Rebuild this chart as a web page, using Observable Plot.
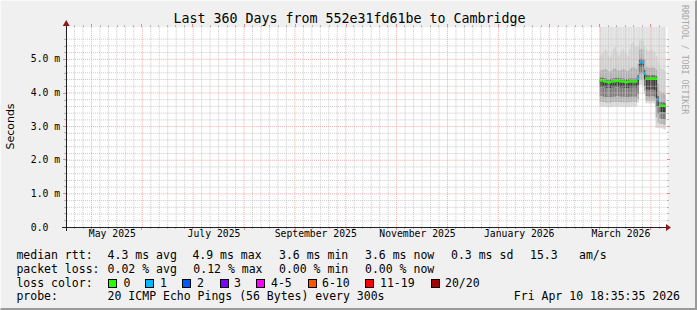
<!DOCTYPE html>
<html><head><meta charset="utf-8">
<script src="https://cdn.jsdelivr.net/npm/d3@7"></script>
<script src="https://cdn.jsdelivr.net/npm/@observablehq/plot@0.6"></script>
<style>
html,body{margin:0;padding:0;background:#f0f0f0;}
#wrap{position:relative;width:697px;height:310px;background:#f0f0f0;overflow:hidden;font-family:"DejaVu Sans Mono",monospace;color:#000;box-sizing:border-box;border-right:2px solid #9a9a9a;border-bottom:2px solid #9a9a9a;border-top:1px solid #fafafa;border-left:1px solid #fafafa;}
#wrap svg{position:absolute;left:-1px;top:-1px;overflow:visible;}
.t{position:absolute;white-space:pre;font-size:11.5px;line-height:1;}
.sw{position:absolute;width:7px;height:7px;border:1px solid #000;}
</style></head><body><div id="wrap"></div>
<script>
// ---------- data ----------
const title = "Last 360 Days from 552e31fd61be to Cambridge";
const yAxisLabel = "Seconds";
const watermark = "RRDTOOL / TOBI OETIKER";
const rangeStart = "2025-04-15T18:35:35";
const rangeEnd = "2026-04-10T18:35:35";
const firstSample = "2026-03-01T00:00:00"; // one sample per day from here

const medianMs = [4.37,4.37,4.35,4.34,4.33,4.32,4.32,4.34,4.34,4.35,4.36,4.36,4.34,4.34,4.34,4.33,4.32,4.33,4.34,4.34,4.34,4.34,4.34,
  4.42,4.90,4.91,4.90,4.57,4.43,4.43,4.42,4.43,4.43,4.42,4.42,3.78,3.63,3.62,3.62,3.61];
const lossPings = [0,0,0,0,0,0,0,0,0,0,0,0,0,0,0,0,0,0,0,0,0,0,0,
  1,1,1,1,1,0,0,0,0,0,0,0,1,0,0,0,0];
const smokeMax = [6.3,6.3,6.3,6.3,6.3,6.3,6.3,6.3,6.3,6.3,6.3,6.3,6.3,6.3,6.3,6.3,6.3,6.3,6.3,6.3,6.3,6.3,6.3,
  6.3,6.3,6.3,6.3,6.3,6.3,6.3,6.3,6.3,6.3,6.3,6.3,6.3,6.3,6.3,6.3,6.3];
const smokeP90 = [5.10,5.15,5.20,5.30,5.25,5.10,5.05,5.15,5.30,5.35,5.20,5.10,5.15,5.25,5.30,5.20,5.15,5.10,5.30,5.45,5.50,5.40,5.35,
  5.40,5.55,5.60,5.55,5.40,5.30,5.25,5.25,5.30,5.25,5.20,5.10,4.90,4.75,4.70,4.70,4.65];
const smokeP75 = [4.66,4.68,4.68,4.70,4.68,4.64,4.63,4.66,4.70,4.72,4.68,4.66,4.66,4.68,4.70,4.68,4.66,4.64,4.70,4.74,4.76,4.73,4.70,
  4.85,5.28,5.30,5.28,5.00,4.76,4.75,4.74,4.75,4.75,4.73,4.68,4.25,4.05,4.00,4.00,3.95];
const smokeP60 = [4.45,4.45,4.43,4.42,4.41,4.40,4.40,4.42,4.42,4.43,4.44,4.44,4.42,4.42,4.42,4.41,4.40,4.41,4.42,4.42,4.42,4.42,4.42,
  4.52,5.00,5.01,5.00,4.68,4.52,4.52,4.51,4.52,4.52,4.51,4.50,3.90,3.72,3.71,3.71,3.70];
const smokeP40 = [4.16,4.16,4.15,4.14,4.13,4.12,4.12,4.14,4.14,4.15,4.16,4.16,4.14,4.14,4.14,4.13,4.12,4.13,4.14,4.14,4.14,4.14,4.14,
  4.20,4.75,4.76,4.75,4.36,4.08,4.08,4.07,4.08,4.08,4.07,3.82,3.58,3.42,3.41,3.41,3.40];
const smokeP25 = [3.88,3.88,3.87,3.86,3.86,3.85,3.85,3.86,3.87,3.87,3.88,3.88,3.87,3.87,3.87,3.86,3.85,3.86,3.87,3.87,3.87,3.87,3.87,
  3.95,4.55,4.56,4.55,4.18,3.88,3.88,3.87,3.88,3.88,3.87,3.55,3.35,3.22,3.21,3.21,3.19];
const smokeP10 = [3.71,3.71,3.70,3.70,3.69,3.69,3.69,3.70,3.71,3.71,3.71,3.71,3.70,3.70,3.70,3.70,3.69,3.70,3.70,3.71,3.71,3.71,3.71,
  3.80,4.35,4.36,4.35,4.04,3.75,3.75,3.74,3.75,3.75,3.74,3.25,3.10,3.06,3.05,3.04,3.02];
const smokeMin = [3.58,3.58,3.57,3.57,3.56,3.56,3.56,3.57,3.58,3.58,3.58,3.58,3.57,3.57,3.57,3.57,3.56,3.57,3.57,3.58,3.58,3.58,3.58,
  3.70,4.22,4.23,4.22,3.95,3.68,3.68,3.67,3.68,3.68,3.67,2.95,2.95,2.95,2.94,2.92,2.90];

const yMax = 5.95;
const yTickValues = [0,1,2,3,4,5];
const yTickLabels = ["0.0","1.0 m","2.0 m","3.0 m","4.0 m","5.0 m"];
const monthLabels = ["May 2025","July 2025","September 2025","November 2025","January 2026","March 2026"];
const monthLabelStarts = ["2025-05-01","2025-07-01","2025-09-01","2025-11-01","2026-01-01","2026-03-01"];

const legendRows = [
  ["median rtt:","4.3 ms avg","4.9 ms max","3.6 ms min","3.6 ms now","0.3 ms sd","15.3","am/s"],
  ["packet loss:","0.02 % avg","0.12 % max","0.00 % min","0.00 % now"],
  ["probe:","20 ICMP Echo Pings (56 Bytes) every 300s"]
];
const lossLabels = ["0","1","2","3","4-5","6-10","11-19","20/20"];
const lossColors = ["#26ff00","#00b8ff","#0059ff","#7e00ff","#ff00ff","#ff5500","#ff0000","#a10000"];
const lossColorTitle = "loss color:";
const timestamp = "Fri Apr 10 18:35:35 2026";

// ---------- layout ----------
const W = 697, H = 310;
const M = {top: 27, right: 27.1, bottom: 82, left: 65.4};
const legendX = [[16.4,107.6,192.4,279,365,451,530,579],[16.4,107.6,193.3,279,365],[16.4,107.6]];
const legendTop = [248.5, 262.5, 290];
const swatchX = [108,145.3,182,219.6,256.4,307.6,365.3,431];
const swatchLabelX = [123.6,160,197,234,271,322,380,445];
const labelShift = 0.41;   // month labels sit this far (in months) after the grid line

// calendar axis: every month gets the same width (as in the rrd graph)
function monthIndex(d) {
  d = new Date(d);
  const m0 = d3.timeMonth.floor(d), m1 = d3.timeMonth.offset(m0, 1);
  return (m0.getFullYear() - 2025) * 12 + m0.getMonth() + (d - m0) / (m1 - m0);
}
const t0 = new Date(rangeStart), t1 = new Date(rangeEnd), tFirst = new Date(firstSample);
const rows = medianMs.map((m, i) => ({
  a: d3.timeDay.offset(tFirst, i), b: d3.timeDay.offset(tFirst, i + 1),
  median: m, loss: lossPings[i],
  mn: smokeMin[i], p10: smokeP10[i], p25: smokeP25[i], p40: smokeP40[i],
  p60: smokeP60[i], p75: smokeP75[i], p90: smokeP90[i], mx: smokeMax[i]
}));
const bands = [
  ["p90","mx","#e0e0e0"],["p75","p90","#d0d0d0"],["p60","p75","#b0b0b0"],["median","p60","#686868"],
  ["p40","median","#3c3c3c"],["p25","p40","#7c7c7c"],["p10","p25","#b2b2b2"],["mn","p10","#d8d8d8"]
];
const majorX = d3.timeMonth.range(d3.timeMonth.ceil(t0), t1);
const minorX = d3.timeMonth.range(d3.timeMonth.floor(t0), t1)
  .flatMap(m => d3.range(1, 6).map(k => monthIndex(m) + k / 6))
  .filter(v => v > monthIndex(t0) && v < monthIndex(t1));
const majorY = d3.range(0, yMax, 1);
const minorY = d3.range(0, 29).map(i => i * 0.2).filter(v => v < yMax && Math.abs(v - Math.round(v)) > 1e-6);
const labelPos = monthLabelStarts.map(s => monthIndex(s + "T00:00:00") + labelShift);

const gridMinor = {stroke: "#c9c9c9", strokeDasharray: "1,1", strokeWidth: 1};
const gridMajor = {stroke: "#f0a8a8", strokeDasharray: "1,1", strokeWidth: 1};

const chart = Plot.plot({
  width: W, height: H,
  marginTop: M.top, marginRight: M.right, marginBottom: M.bottom, marginLeft: M.left,
  style: {background: "transparent", fontFamily: "'DejaVu Sans Mono', monospace", fontSize: "9.8px", color: "#000"},
  x: {type: "linear", domain: [monthIndex(t0), monthIndex(t1)], axis: null},
  y: {domain: [0, yMax], axis: null},
  marks: [
    Plot.frame({fill: "#ffffff", stroke: null}),
    ...bands.map(([lo, hi, f]) => Plot.rect(rows, {x1: d => monthIndex(d.a), x2: d => monthIndex(d.b), y1: lo, y2: hi, fill: f, inset: 0, clip: true})),
    Plot.ruleX(minorX, {...gridMinor}),
    Plot.ruleY(minorY, {...gridMinor}),
    Plot.ruleX(majorX, {x: d => monthIndex(d), ...gridMajor}),
    Plot.ruleY(majorY.filter(v => v > 0), {...gridMajor}),
    Plot.ruleY(rows, {x1: d => monthIndex(d.a), x2: d => monthIndex(d.b), y: "median", stroke: d => lossColors[d.loss], strokeWidth: 2.5, clip: true}),
    Plot.text(yTickValues, {y: d => d, text: (d, i) => yTickLabels[i], frameAnchor: "left", dx: -35, textAnchor: "start", fill: "#000"}),
    Plot.text(labelPos, {x: d => d, text: (d, i) => monthLabels[i], frameAnchor: "bottom", dy: 10, fill: "#000"})
  ]
});
const wrap = document.getElementById("wrap");
wrap.appendChild(chart);

// axis lines, ticks, arrows (positions from Plot's scales)
const sx = chart.scale("x"), sy = chart.scale("y");
const svg = d3.select(chart);
const x0 = Math.round(sx.apply(monthIndex(t0))) + 1, x1 = W - M.right, yb = sy.apply(0), yt = M.top;
const g = svg.append("g").attr("shape-rendering", "crispEdges");
minorX.forEach(v => { const x = Math.round(sx.apply(v)) + 0.5;
  g.append("line").attr("x1", x).attr("x2", x).attr("y1", yb).attr("y2", yb + 2).attr("stroke", "#b8b8b8");
  g.append("line").attr("x1", x).attr("x2", x).attr("y1", yt - 2).attr("y2", yt).attr("stroke", "#b8b8b8"); });
majorX.forEach(d => { const x = Math.round(sx.apply(monthIndex(d))) + 0.5;
  g.append("line").attr("x1", x).attr("x2", x).attr("y1", yb).attr("y2", yb + 3).attr("stroke", "#e88a8a");
  g.append("line").attr("x1", x).attr("x2", x).attr("y1", yt - 3).attr("y2", yt).attr("stroke", "#e88a8a"); });
minorY.forEach(v => { const y = Math.round(sy.apply(v)) + 0.5;
  g.append("line").attr("x1", x0 - 2).attr("x2", x0).attr("y1", y).attr("y2", y).attr("stroke", "#b8b8b8");
  g.append("line").attr("x1", x1).attr("x2", x1 + 2).attr("y1", y).attr("y2", y).attr("stroke", "#b8b8b8"); });
majorY.forEach(v => { const y = Math.round(sy.apply(v)) + 0.5;
  g.append("line").attr("x1", x0 - 3).attr("x2", x0).attr("y1", y).attr("y2", y).attr("stroke", "#e88a8a");
  g.append("line").attr("x1", x1).attr("x2", x1 + 3).attr("y1", y).attr("y2", y).attr("stroke", "#e88a8a"); });
const ybr = Math.round(yb) + 0.5, x0r = x0 + 0.5;
g.append("line").attr("x1", x0 - 4).attr("x2", x1).attr("y1", ybr).attr("y2", ybr).attr("stroke", "#222");
g.append("line").attr("x1", x0r).attr("x2", x0r).attr("y1", ybr + 4).attr("y2", yt - 4).attr("stroke", "#222");
svg.append("path").attr("d", `M${x1 - 1},${ybr - 3.5}L${x1 + 4},${ybr}L${x1 - 1},${ybr + 3.5}Z`).attr("fill", "#8b1a1a");
svg.append("path").attr("d", `M${x0r - 3.5},${yt - 1}L${x0r},${yt - 7}L${x0r + 3.5},${yt - 1}Z`).attr("fill", "#8b1a1a");
// y-axis title and watermark
svg.append("text").attr("transform", `translate(14,127) rotate(-90)`).attr("text-anchor", "middle")
  .attr("font-family", "'DejaVu Sans', sans-serif").attr("font-size", "11px").text(yAxisLabel);
svg.append("text").attr("transform", `translate(685,5) rotate(90)`).attr("text-anchor", "start")
  .attr("font-family", "'DejaVu Sans Mono', monospace").attr("font-size", "8.3px").attr("fill", "#a8a8a8").text(watermark);

// title and legend text
function addText(str, x, top, size, extra) {
  const d = document.createElement("div"); d.className = "t"; d.textContent = str;
  d.style.left = x + "px"; d.style.top = top + "px"; if (size) d.style.fontSize = size + "px";
  if (extra) Object.assign(d.style, extra); wrap.appendChild(d); return d;
}
addText(title, 0, 11, 13.3, {width: W + "px", textAlign: "center"});
legendRows.forEach((row, r) => row.forEach((s, k) => addText(s, legendX[r][k] - 1, legendTop[r])));
addText(lossColorTitle, 15.4, 276.5);
lossLabels.forEach((s, k) => {
  const b = document.createElement("div"); b.className = "sw"; b.style.background = lossColors[k];
  b.style.left = (swatchX[k] - 1) + "px"; b.style.top = "278px"; wrap.appendChild(b);
  addText(s, swatchLabelX[k] - 1, 276.5);
});
addText(timestamp, 0, 290, null, {left: "auto", right: "15px"});
</script></body></html>
